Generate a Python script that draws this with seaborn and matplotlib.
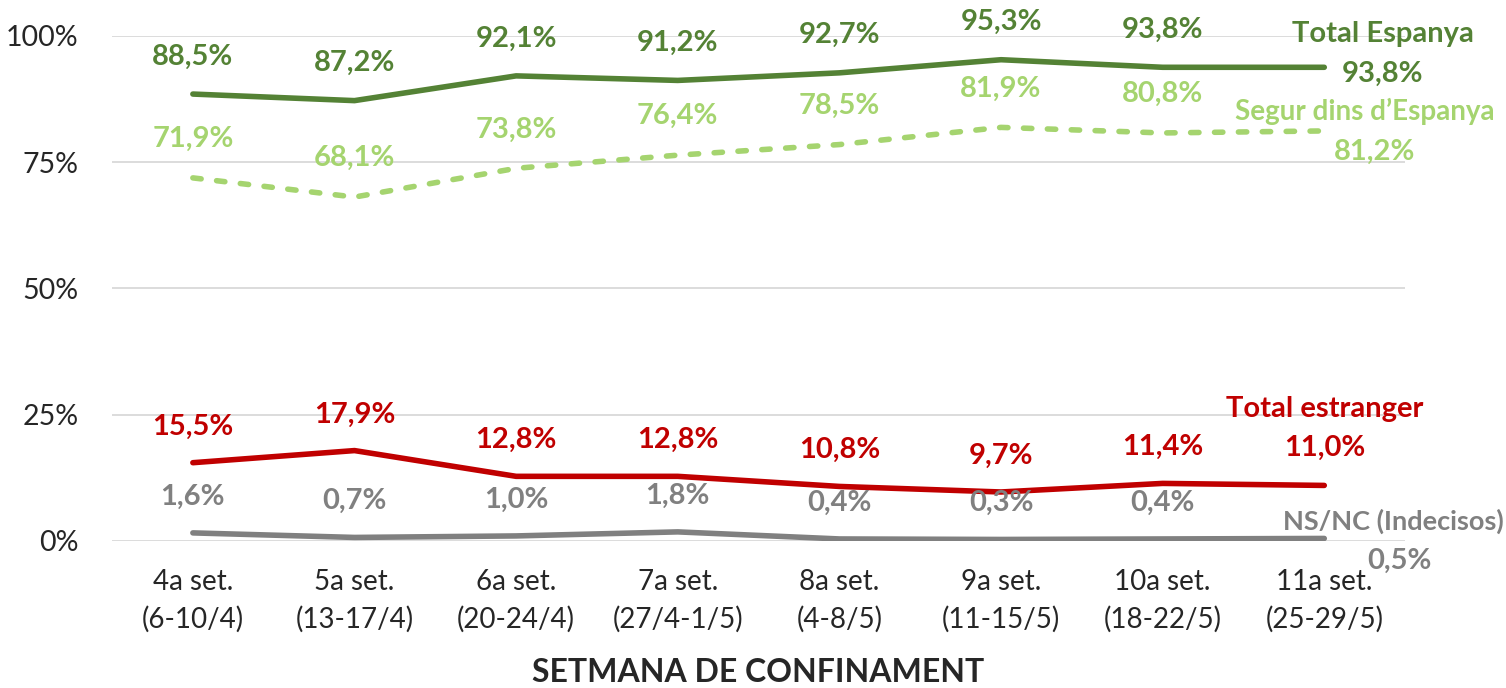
import numpy as np
import pandas as pd
import seaborn as sns
import matplotlib.pyplot as plt

# dades
setmanes = ['4a set.\n(6-10/4)', '5a set.\n(13-17/4)', '6a set.\n(20-24/4)', '7a set.\n(27/4-1/5)',
            '8a set.\n(4-8/5)', '9a set.\n(11-15/5)', '10a set.\n(18-22/5)', '11a set.\n(25-29/5)']
total_espanya = [88.5, 87.2, 92.1, 91.2, 92.7, 95.3, 93.8, 93.8]
segur_espanya = [71.9, 68.1, 73.8, 76.4, 78.5, 81.9, 80.8, 81.2]
total_estranger = [15.5, 17.9, 12.8, 12.8, 10.8, 9.7, 11.4, 11.0]
nsnc = [1.6, 0.7, 1.0, 1.8, 0.4, 0.3, 0.4, 0.5]
y_ticks = [0, 25, 50, 75, 100]

sns.set_style('white')
plt.rcParams['font.family'] = ['Lato', 'DejaVu Sans']

fig = plt.figure(figsize=(15.06, 6.88), dpi=100)
ax = fig.add_axes([0.0744, 0.2137, 0.8586, 0.734])

x = np.arange(len(setmanes))
VERD = '#548235'
VERD_CLAR = '#A5D46F'
VERMELL = '#C00000'
GRIS = '#808080'
series = [
    ('Total Espanya', total_espanya, VERD, '-'),
    ('Segur dins d\u2019Espanya', segur_espanya, VERD_CLAR, (0, (1.5, 2.8))),
    ('Total estranger', total_estranger, VERMELL, '-'),
    ('NS/NC (Indecisos)', nsnc, GRIS, '-'),
]

def fmt(v):
    return f'{v:.1f}%'.replace('.', ',')

FS = 21

def etiqueta(text, xi, yi, dx, dy, col, fs=FS):
    ax.annotate(text, (xi, yi), xytext=(dx, dy), textcoords='offset points',
                ha='center', va='center', color=col, fontsize=fs, fontweight='bold',
                annotation_clip=False)

# offsets (points) of the data labels above each point
offsets = [27, 28, 26, 26]
for (name, vals, col, ls), off in zip(series, offsets):
    df = pd.DataFrame({'x': x, 'y': vals})
    sns.lineplot(data=df, x='x', y='y', ax=ax, color=col, linewidth=4,
                 linestyle=ls, solid_capstyle='round', dash_capstyle='round')
    for i, v in enumerate(vals[:-1]):
        etiqueta(fmt(v), x[i], v, 0, off, col)

# etiquetes finals i noms de serie
n = len(x) - 1
etiqueta(fmt(total_espanya[-1]), x[n], total_espanya[-1], 42, -5, VERD)
etiqueta('Total Espanya', x[n], total_espanya[-1], 42, 24, VERD)
etiqueta(fmt(segur_espanya[-1]), x[n], segur_espanya[-1], 36, -15, VERD_CLAR)
etiqueta('Segur dins d\u2019Espanya', x[n], segur_espanya[-1], 29, 14, VERD_CLAR, fs=20)
etiqueta(fmt(total_estranger[-1]), x[n], total_estranger[-1], 0, 27, VERMELL)
etiqueta('Total estranger', x[n], total_estranger[-1], 0, 55, VERMELL)
etiqueta(fmt(nsnc[-1]), x[n], nsnc[-1], 54, -16, GRIS)
etiqueta('NS/NC (Indecisos)', x[n], nsnc[-1], 50, 12, GRIS, fs=19.5)

ax.set_xlim(-0.5, 7.5)
ax.set_ylim(0, 100)
ax.set_yticks(y_ticks)
ax.set_yticklabels([f'{t}%' for t in y_ticks], fontsize=20.5)
ax.set_xticks(x)
ax.set_xticklabels(setmanes, fontsize=20, linespacing=1.5)
ax.tick_params(axis='x', length=0, pad=20)
ax.tick_params(axis='y', length=0, pad=24)
ax.grid(axis='y', color='#D9D9D9', linewidth=1.3)
ax.set_axisbelow(True)
for s in ax.spines.values():
    s.set_visible(False)
ax.set_xlabel('SETMANA DE CONFINAMENT', fontsize=23, fontweight='bold', labelpad=18)
ax.set_ylabel('')

fig.savefig('out.png', dpi=100)
